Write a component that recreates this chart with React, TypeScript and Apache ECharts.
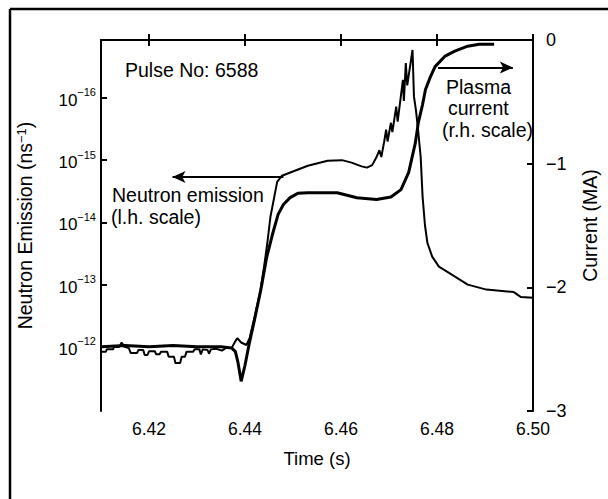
import React, { useEffect, useRef } from "react";
import * as echarts from "echarts";

// Neutron emission (thin line, left scale; values are the decade exponent shown as 10^-n)
const neutronTime = [
  6.4101, 6.4110, 6.4112, 6.4125, 6.4127, 6.4138, 6.4143, 6.4149, 6.4158, 6.4162,
  6.4175, 6.4178, 6.4188, 6.4191, 6.4197, 6.4200, 6.4212, 6.4215, 6.4222, 6.4225,
  6.4238, 6.4241, 6.4252, 6.4255, 6.4265, 6.4268, 6.4275, 6.4278, 6.4292, 6.4295,
  6.4305, 6.4308, 6.4312, 6.4322, 6.4325, 6.4329, 6.4340, 6.4352, 6.4362, 6.4372,
  6.4379, 6.4384, 6.4392, 6.4403, 6.4410, 6.4420, 6.4432, 6.4440, 6.4447, 6.4453,
  6.4461, 6.4467, 6.4477, 6.4497, 6.4531, 6.4572, 6.4602, 6.4622, 6.4643, 6.4654,
  6.4665, 6.4674, 6.4680, 6.4684, 6.4690, 6.4694, 6.4697, 6.4704, 6.4707, 6.4715,
  6.4718, 6.4729, 6.4731, 6.4735, 6.4738, 6.4749, 6.4752, 6.4756, 6.4760, 6.4766,
  6.4770, 6.4775, 6.4780, 6.4790, 6.4804, 6.4825, 6.4864, 6.4903, 6.4960, 6.4975,
  6.5000,
];
const neutronExp = [
  11.92, 11.92, 11.96, 11.96, 12.0, 12.0, 12.07, 12.0, 11.98, 11.9,
  11.9, 11.95, 11.95, 11.87, 11.87, 11.93, 11.93, 11.88, 11.88, 11.92,
  11.92, 11.84, 11.84, 11.74, 11.74, 11.84, 11.84, 11.92, 11.92, 11.96,
  11.96, 11.88, 11.96, 11.95, 11.89, 11.96, 11.97, 11.94, 11.99, 11.98,
  12.08, 12.14, 12.07, 12.03, 12.15, 12.48, 12.9, 13.3, 13.7, 14.09,
  14.41, 14.65, 14.75, 14.81, 14.91, 14.99, 15.0, 14.96, 14.9, 14.88,
  14.92, 15.05, 15.16, 15.05, 15.3, 15.49, 15.3, 15.6, 15.45, 15.86,
  15.62, 16.29, 15.95, 16.56, 16.2, 16.77, 16.02, 15.81, 15.53, 15.05,
  14.41, 13.95, 13.67, 13.45, 13.29, 13.19, 13.0, 12.92, 12.88, 12.8,
  12.79,
];

// Plasma current (thick line, right scale, MA)
const currentTime = [
  6.4101, 6.4150, 6.4200, 6.4250, 6.4300, 6.4350, 6.4372, 6.4380, 6.4385, 6.4392,
  6.4400, 6.4408, 6.4420, 6.4433, 6.4445, 6.4457, 6.4469, 6.4480, 6.4494, 6.4510,
  6.4531, 6.4592, 6.4633, 6.4674, 6.4704, 6.4725, 6.4741, 6.4755, 6.4761, 6.4770,
  6.4776, 6.4786, 6.4796, 6.4817, 6.4837, 6.4864, 6.4888, 6.4919,
];
const currentMA = [
  -2.48, -2.47, -2.48, -2.47, -2.48, -2.48, -2.49, -2.52, -2.6, -2.76,
  -2.63, -2.47, -2.26, -2.02, -1.76, -1.575, -1.41, -1.33, -1.275, -1.24,
  -1.235, -1.235, -1.275, -1.29, -1.27, -1.21, -1.07, -0.83, -0.67, -0.52,
  -0.4, -0.3, -0.215, -0.13, -0.09, -0.05, -0.035, -0.035,
];

const timeTicks = [6.42, 6.44, 6.46, 6.48, 6.5];
const neutronTicks = [12, 13, 14, 15, 16];
const currentTicks = [-3, -2, -1, 0];

// annotation arrows (data coordinates)
const neutronArrow = { from: [6.448, 14.73], to: [6.4249, 14.73] };
const currentArrow = { from: [6.4802, -0.223], to: [6.4958, -0.223] };

const FONT = "'Liberation Sans', Arial, Helvetica, sans-serif";

export default function App() {
  const ref = useRef<HTMLDivElement>(null);
  useEffect(() => {
    if (!ref.current) return;
    const chart = echarts.init(ref.current, null, { renderer: "svg" });
    const axisLine = { show: true, lineStyle: { color: "#000", width: 2 } };
    const axisTick = { show: true, inside: true, length: 6, lineStyle: { color: "#000", width: 2 } };
    const txt = (text: string, x: number, y: number) => ({
      type: "text",
      x,
      y,
      style: { text, fill: "#000", font: `19.5px ${FONT}`, textVerticalAlign: "middle" },
    });
    chart.setOption({
      animation: false,
      backgroundColor: "#fff",
      textStyle: { fontFamily: FONT },
      grid: { left: 101, right: 68, top: 40, bottom: 88 },
      xAxis: [
        {
          type: "value",
          position: "bottom",
          min: 6.41,
          max: 6.5,
          name: "Time (s)",
          nameLocation: "middle",
          nameGap: 38,
          nameTextStyle: { color: "#000", fontSize: 18.5, fontFamily: FONT },
          axisLine,
          axisTick: { ...axisTick, customValues: timeTicks },
          axisLabel: {
            customValues: timeTicks,
            color: "#000",
            fontSize: 17.5,
            fontFamily: FONT,
            margin: 9,
            formatter: (v: number) => v.toFixed(2),
          },
          splitLine: { show: false },
        },
        {
          type: "value",
          position: "top",
          min: 6.41,
          max: 6.5,
          axisLine,
          axisTick: { ...axisTick, customValues: timeTicks },
          axisLabel: { show: false },
          splitLine: { show: false },
        },
      ],
      yAxis: [
        {
          type: "value",
          position: "left",
          min: 10.97,
          max: 16.93,
          name: "Neutron Emission (ns{sup|−1})",
          nameLocation: "middle",
          nameRotate: 90,
          nameGap: 66,
          nameTextStyle: {
            color: "#000",
            fontSize: 19.5,
            fontFamily: FONT,
            rich: { sup: { fontSize: 13, fontFamily: FONT, color: "#000", verticalAlign: "top", lineHeight: 13 } },
          },
          axisLine,
          axisTick: { ...axisTick, customValues: neutronTicks },
          axisLabel: {
            customValues: neutronTicks,
            margin: 5,
            formatter: (v: number) => `{b|10}{s|−${v}}`,
            rich: {
              b: { fontSize: 17, fontFamily: FONT, color: "#000", lineHeight: 22, verticalAlign: "bottom" },
              s: { fontSize: 11, fontFamily: FONT, color: "#000", lineHeight: 12, verticalAlign: "top" },
            },
          },
          splitLine: { show: false },
        },
        {
          type: "value",
          position: "right",
          min: -3,
          max: 0,
          interval: 1,
          name: "Current (MA)",
          nameLocation: "middle",
          nameRotate: 90,
          nameGap: 47,
          nameTextStyle: { color: "#000", fontSize: 19.5, fontFamily: FONT },
          axisLine,
          axisTick: { ...axisTick, customValues: currentTicks },
          axisLabel: {
            customValues: currentTicks,
            color: "#000",
            fontSize: 18,
            fontFamily: FONT,
            margin: 13,
            formatter: (v: number) => (v < 0 ? `−${Math.abs(v)}` : `${v}`),
          },
          splitLine: { show: false },
        },
      ],
      series: [
        {
          type: "line",
          name: "Neutron emission",
          xAxisIndex: 0,
          yAxisIndex: 0,
          data: neutronTime.map((t, i) => [t, neutronExp[i]]),
          symbol: "none",
          lineStyle: { color: "#000", width: 2 },
          markLine: {
            silent: true,
            symbol: ["none", "arrow"],
            symbolSize: [9, 13],
            label: { show: false },
            lineStyle: { color: "#000", width: 2, type: "solid" },
            data: [[{ coord: neutronArrow.from }, { coord: neutronArrow.to }]],
          },
        },
        {
          type: "line",
          name: "Plasma current",
          xAxisIndex: 0,
          yAxisIndex: 1,
          data: currentTime.map((t, i) => [t, currentMA[i]]),
          symbol: "none",
          lineStyle: { color: "#000", width: 3 },
          markLine: {
            silent: true,
            symbol: ["none", "arrow"],
            symbolSize: [9, 13],
            label: { show: false },
            lineStyle: { color: "#000", width: 2, type: "solid" },
            data: [[{ coord: currentArrow.from }, { coord: currentArrow.to }]],
          },
        },
      ],
      graphic: [
        { type: "line", shape: { x1: 10, y1: 9, x2: 608, y2: 9 }, style: { stroke: "#000", lineWidth: 2.5 } },
        { type: "line", shape: { x1: 10, y1: 9, x2: 10, y2: 499 }, style: { stroke: "#000", lineWidth: 2.5 } },
        txt("Pulse No: 6588", 125, 70),
        txt("Neutron emission", 112, 195),
        txt("(l.h. scale)", 111, 217),
        txt("Plasma", 446, 87),
        txt("current", 448, 108),
        txt("(r.h. scale)", 442, 130),
      ],
    });
    return () => chart.dispose();
  }, []);
  return (
    <div
      ref={ref}
      style={{ position: "fixed", left: 0, top: 0, width: 608, height: 499, background: "#fff" }}
    />
  );
}
